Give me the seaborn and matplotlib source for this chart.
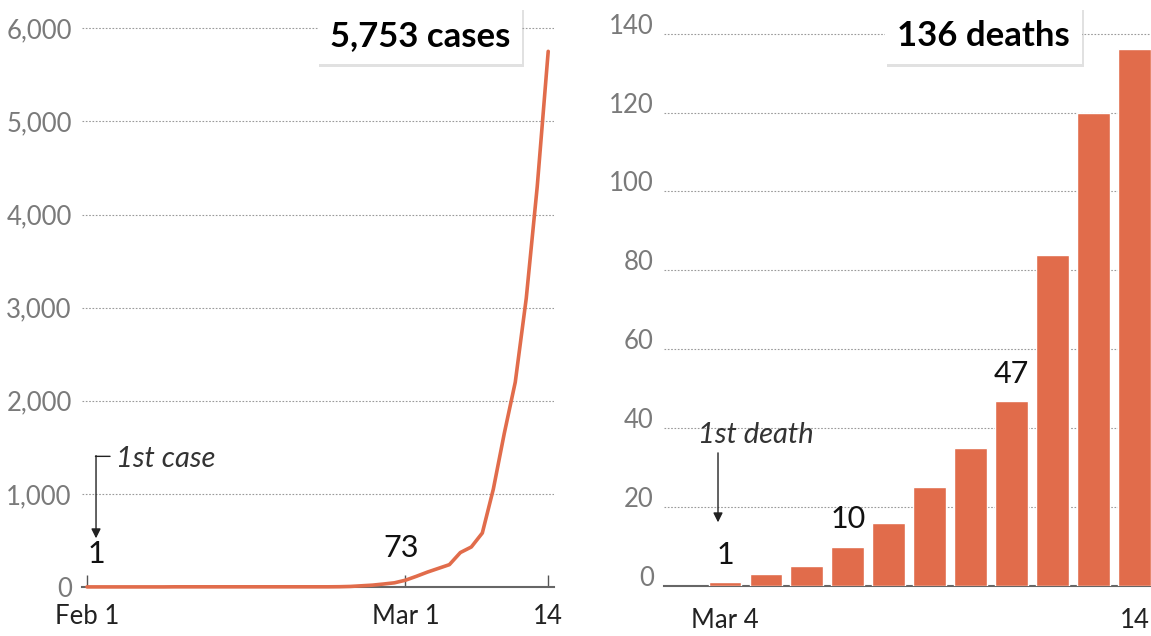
import numpy as np
import pandas as pd
import matplotlib
matplotlib.use('Agg')
import matplotlib.pyplot as plt
import matplotlib.patheffects as pe
from matplotlib.transforms import offset_copy
import seaborn as sns

# ── data ───────────────────────────────────────────────────
case_start, case_end = '2020-02-01', '2020-03-14'
cases = [1, 1, 1, 1, 1, 1, 1, 1,                     # Feb 1-8
         2, 2, 2, 2, 2, 2, 2, 2, 2, 2, 2, 2, 2, 2, 2,  # Feb 9-23
         3, 6, 13, 20, 32, 45,                       # Feb 24-29
         73, 115, 160, 200, 240, 370, 430, 580,      # Mar 1-8
         1050, 1650, 2200, 3100, 4300, 5753]         # Mar 9-14
case_ticks = ['2020-02-01', '2020-03-01', '2020-03-14']
case_tick_labels = ['Feb 1', 'Mar 1', '14']
case_yticks = [0, 1000, 2000, 3000, 4000, 5000, 6000]

death_days = ['Mar 4', 'Mar 5', 'Mar 6', 'Mar 7', 'Mar 8', 'Mar 9',
              'Mar 10', 'Mar 11', 'Mar 12', 'Mar 13', 'Mar 14']
deaths = [1, 3, 5, 10, 16, 25, 35, 47, 84, 120, 136]
death_tick_labels = ['Mar 4', '14']
death_labelled = ['Mar 4', 'Mar 7', 'Mar 11']
death_yticks = [0, 20, 40, 60, 80, 100, 120, 140]

ORANGE = '#e16c4b'
GREY_TXT = '#7a7a7a'

sns.set_theme(style='white')
plt.rcParams['font.family'] = ['Lato', 'DejaVu Sans']

W, H = 1151, 636
fig = plt.figure(figsize=(W / 100, H / 100), dpi=100)

def px_axes(x0, y0, x1, y1):
    return fig.add_axes([x0 / W, (H - y1) / H, (x1 - x0) / W, (y1 - y0) / H])

def off(ax, dx, dy):
    return offset_copy(ax.transData, fig=fig, x=dx, y=dy, units='points')

def style_axes(ax):
    for s in ['left', 'right', 'top']:
        ax.spines[s].set_visible(False)
    ax.spines['bottom'].set_color('#666666')
    ax.spines['bottom'].set_linewidth(1.5)
    ax.spines['bottom'].set_zorder(2.5)
    ax.yaxis.grid(True, linestyle=(0, (1.5, 1.5)), color='#9a9a9a', linewidth=0.8)
    ax.xaxis.grid(False)
    ax.set_axisbelow(True)
    ax.set_xlabel('')
    ax.set_ylabel('')

def hide_zero_grid(ax):
    for tick_val, line in zip(ax.get_yticks(), ax.get_ygridlines()):
        if tick_val == 0:
            line.set_visible(False)

def title_box(ax, x, y, text):
    t = ax.text(x, y, text, transform=ax.transAxes, ha='center', va='center',
                fontsize=25, fontweight='bold', color='black', zorder=6,
                bbox=dict(boxstyle='square,pad=0.35', fc='white', ec='none'))
    t.get_bbox_patch().set_path_effects([
        pe.SimplePatchShadow(offset=(1.2, -1.8), shadow_rgbFace='#aaaaaa', alpha=0.35),
        pe.Normal()])

# ── left: cumulative cases ─────────────────────────────────
dates = pd.date_range(case_start, case_end, freq='D')
day0 = dates[0]
df_cases = pd.DataFrame({'day': (dates - day0).days, 'cases': cases})

ax1 = px_axes(81.5, 10, 553.7, 587)
sns.lineplot(data=df_cases, x='day', y='cases', color=ORANGE, linewidth=2.6,
             ax=ax1, zorder=4, clip_on=False)
style_axes(ax1)
ax1.set_xlim(-0.5, 42.5)
ax1.set_ylim(0, 6197)
ax1.set_yticks(case_yticks)
ax1.set_yticklabels([f'{v:,}' for v in case_yticks])
tick_pos = [(pd.Timestamp(d) - day0).days for d in case_ticks]
ax1.set_xticks(tick_pos)
ax1.set_xticklabels(case_tick_labels)
ax1.tick_params(axis='y', labelsize=18.5, labelcolor=GREY_TXT, length=0, pad=7)
ax1.tick_params(axis='x', labelsize=18.5, labelcolor='#222222', direction='in',
                length=9, width=1, color='#555555', pad=12, bottom=True)
hide_zero_grid(ax1)

# value labels on the line
first_day, first_val = df_cases['day'].iloc[0], df_cases['cases'].iloc[0]
ax1.annotate('1', xy=(first_day, first_val), xytext=(6.5, 17),
             textcoords='offset points', ha='center', va='baseline',
             fontsize=22, color='#111111')
mar1 = tick_pos[1]
ax1.annotate(f'{cases[mar1]}', xy=(mar1, cases[mar1]), xytext=(-3, 17),
             textcoords='offset points', ha='center', va='baseline',
             fontsize=22, color='#111111')

# "1st case" bracket + arrow
ax1.annotate('', xy=(first_day, first_val), xycoords=off(ax1, 6.5, 35),
             xytext=(first_day, first_val), textcoords=off(ax1, 6.5, 94.5),
             arrowprops=dict(arrowstyle='-|>', color='#222222', lw=1,
                             shrinkA=0, shrinkB=0, mutation_scale=14))
ax1.annotate('', xy=(first_day, first_val), xycoords=off(ax1, 6.1, 94),
             xytext=(first_day, first_val), textcoords=off(ax1, 16.6, 94),
             arrowprops=dict(arrowstyle='-', color='#222222', lw=1,
                             shrinkA=0, shrinkB=0))
ax1.annotate('1st case', xy=(first_day, first_val), xytext=(21, 92),
             textcoords='offset points', ha='left', va='center',
             fontsize=21, fontstyle='italic', fontweight='normal', color='#333333')

title_box(ax1, 0.717, 0.955, f'{cases[-1]:,} cases')

# ── right: cumulative deaths ───────────────────────────────
df_deaths = pd.DataFrame({'day': death_days, 'deaths': deaths})
ax2 = px_axes(663.5, 10, 1151, 586)
sns.barplot(data=df_deaths, x='day', y='deaths', color=ORANGE, saturation=1,
            width=0.8, ax=ax2, zorder=3)
style_axes(ax2)
ax2.set_xlim(-1.5, 10.4)
ax2.set_ylim(0, 146)
ax2.set_yticks(death_yticks)
ax2.set_yticklabels([str(v) for v in death_yticks], va='baseline')
ax2.set_xticks([death_days.index(death_days[0]), len(death_days) - 1])
ax2.set_xticklabels(death_tick_labels)
ax2.tick_params(axis='y', labelsize=18.5, labelcolor=GREY_TXT, length=0, pad=7)
ax2.tick_params(axis='x', labelsize=18.5, labelcolor='#222222', length=0, pad=16)
hide_zero_grid(ax2)

for d in death_labelled:
    i = death_days.index(d)
    ax2.annotate(f'{deaths[i]}', xy=(i, deaths[i]), xytext=(0, 13),
                 textcoords='offset points', ha='center', va='baseline',
                 fontsize=22, color='#111111')

ax2.annotate('', xy=(0, deaths[0]), xycoords=off(ax2, -5, 43),
             xytext=(0, deaths[0]), textcoords=off(ax2, -5, 93),
             arrowprops=dict(arrowstyle='-|>', color='#222222', lw=1,
                             shrinkA=0, shrinkB=0, mutation_scale=14))
ax2.annotate('1st death', xy=(0, deaths[0]), xytext=(22, 106),
             textcoords='offset points', ha='center', va='center',
             fontsize=21, fontstyle='italic', fontweight='normal', color='#333333')

title_box(ax2, 0.657, 0.955, f'{deaths[-1]} deaths')

fig.savefig('out.png', dpi=100, facecolor='white')
